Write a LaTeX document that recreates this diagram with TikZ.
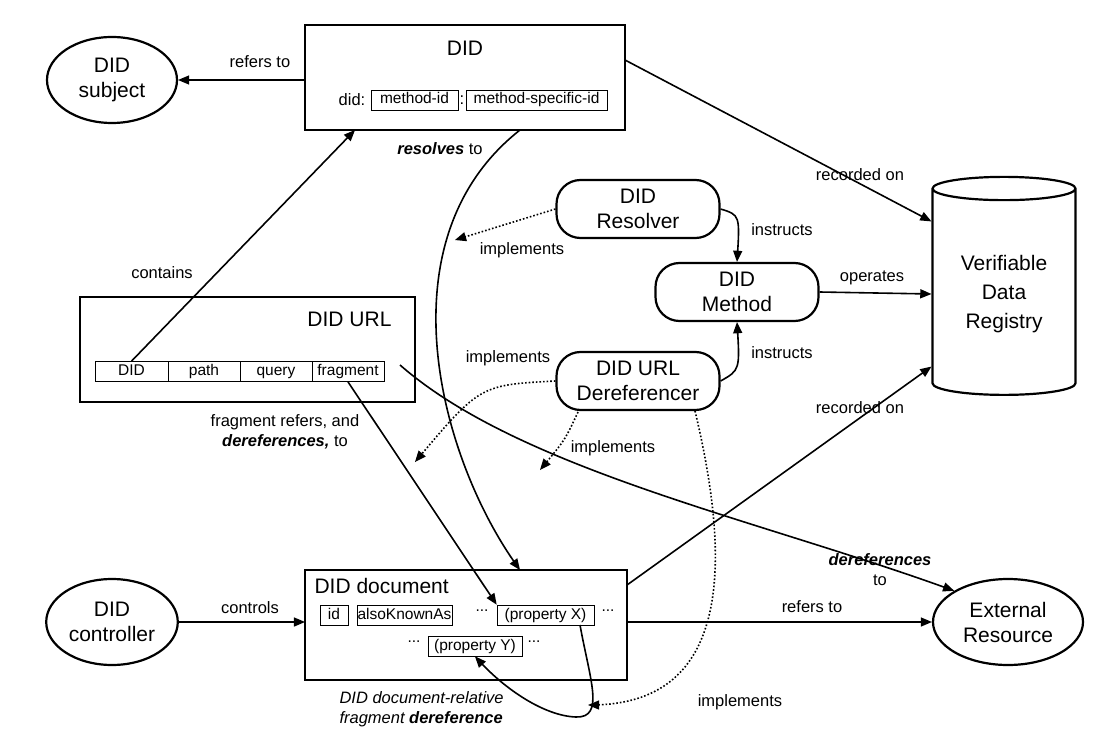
\documentclass[tikz,border=0pt]{standalone}
\usepackage{fontspec}
\setmainfont{Liberation Sans}
\usetikzlibrary{arrows,shapes.geometric,positioning}

\newcommand{\bigtxt}{\fontsize{21}{25}\selectfont}
\newcommand{\lbltxt}{\fontsize{16.5}{20}\selectfont}
\newcommand{\celltxt}{\fontsize{15.5}{17}\selectfont}

\begin{document}
\begin{tikzpicture}[x=1pt,y=-1pt,>=triangle 45,
  ent/.style={ellipse,draw,line width=2.2pt,align=center,font=\bigtxt},
  frame/.style={draw,line width=2.2pt},
  soft/.style={draw,line width=2.2pt,rounded corners=24pt,align=center,font=\bigtxt,minimum width=163pt,minimum height=58pt},
  cell/.style={draw,line width=0.7pt,inner sep=0pt,minimum height=20pt,text height=11pt,text depth=3pt,font=\celltxt},
  lbl/.style={font=\lbltxt,align=center},
  link/.style={->,line width=1.6pt},
  impl/.style={->,line width=1.6pt,dotted}]
\useasboundingbox (0,0) rectangle (1105,743);
%%%ENTITIES
\node[ent,minimum width=130pt,minimum height=86pt] (subject) at (112,80) {DID\\subject};
\node[ent,minimum width=130pt,minimum height=86pt] (controller) at (112,622) {DID\\controller};
\node[ent,minimum width=150pt,minimum height=86pt] (external) at (1008,622) {External\\Resource};
\node[cylinder,draw,line width=2.2pt,shape border rotate=90,aspect=0.25,minimum width=143pt,minimum height=218pt,align=center,font=\fontsize{21}{29}\selectfont] (vdr) at (1004,294) {Verifiable\\Data\\Registry};
%%%DID
\draw[frame] (305,25) rectangle (625,130);
\coordinate (didL) at (305,80);
\coordinate (didR) at (625,60);
\coordinate (didB) at (520,130);
\coordinate (didB2) at (355,130);
\node[font=\bigtxt] at (465,48) {DID};
\node[font=\lbltxt] at (352,100) {did:};
\node[cell,minimum width=87pt] (mid) at (414.5,100) {method-id};
\node[font=\lbltxt] at (462,100) {:};
\node[cell,minimum width=141pt] (msid) at (536.5,100) {method-specific-id};
%%%DID URL
\draw[frame] (80,297) rectangle (415,402);
\node[font=\bigtxt,anchor=east] at (395,319) {DID URL};
\node[cell,minimum width=73pt] (udid) at (131.5,371.5) {DID};
\node[cell,minimum width=72pt] (upath) at (204,371.5) {path};
\node[cell,minimum width=72pt] (uquery) at (276,371.5) {query};
\node[cell,minimum width=72pt] (ufrag) at (348,371.5) {fragment};
\coordinate (urlR) at (400,365);
%%%DID DOCUMENT
\draw[frame] (305,570) rectangle (627,680);
\coordinate (docT) at (520,570);
\coordinate (docL) at (305,622);
\coordinate (docR) at (627,622);
\coordinate (docTR) at (627,585);
\node[font=\bigtxt,anchor=west] at (311,586) {DID document};
\node[cell,minimum width=28pt] (pid) at (334,615) {id};
\node[cell,minimum width=95pt] (aka) at (404.5,615) {alsoKnownAs};
\node[font=\celltxt] at (482,611) {...};
\node[cell,minimum width=97pt] (propx) at (545.5,615) {(property X)};
\node[font=\celltxt] at (608,611) {...};
\node[font=\celltxt] at (414,642) {...};
\node[cell,minimum width=94pt] (propy) at (475,646) {(property Y)};
\node[font=\celltxt] at (534,642) {...};
%%%SOFTWARE
\node[soft] (resolver) at (638,209) {DID\\Resolver};
\node[soft] (method) at (737,292) {DID\\Method};
\node[soft] (deref) at (638,381) {DID URL\\Dereferencer};
\coordinate (loopB) at (576,717);
%%%RELATIONS
\draw[link] (didL) -- (subject.east);
\node[lbl] at (260,62) {refers to};
\draw[link] (didR) -- (vdr.north west);
\node[lbl] at (860,175) {recorded on};
\draw[link] (udid.north) -- (didB2);
\node[lbl] at (162,273) {contains};
\draw[link] (didB) .. controls (380,240) and (440,460) .. (docT);
\node[lbl] at (440,149) {\textbf{\textit{resolves}} to};
\draw[link] (resolver.east) .. controls (740,215) .. (method.north);
\node[lbl] at (782,230) {instructs};
\draw[link] (deref.east) .. controls (740,370) .. (method.south);
\node[lbl] at (782,353) {instructs};
\draw[link] (method.east) -- (vdr.west);
\node[lbl] at (872,278) {operates};
\draw[impl] (resolver.west) -- (455,240);
\node[lbl] at (522,250) {implements};
\draw[impl] (deref.west) .. controls (480,385) .. (415,462);
\node[lbl] at (508,358) {implements};
\draw[impl] (578,412) .. controls (565,440) .. (540,470);
\node[lbl] at (613,448) {implements};
\draw[impl] (695,411) .. controls (745,620) and (700,705) .. (588,705);
\node[lbl] at (740,702) {implements};
\draw[link] (ufrag.south) -- (propx.north west);
\node[lbl] at (285,432) {fragment refers, and\\\textbf{\textit{dereferences,}} to};
\draw[link] (urlR) .. controls (520,470) and (760,520) .. (external.north west);
\node[lbl] at (880,570) {\textbf{\textit{dereferences}}\\to};
\draw[link] (docTR) -- (vdr.south west);
\node[lbl] at (860,408) {recorded on};
\draw[link] (docR) -- (external.west);
\node[lbl] at (812,607) {refers to};
\draw[link] (controller.east) -- (docL);
\node[lbl] at (250,608) {controls};
\draw[link] (580,625) .. controls (590,680) and (605,718) .. (loopB) .. controls (545,716) and (505,690) .. (propy.south);
\node[lbl,font=\lbltxt\itshape,align=left,anchor=north west] at (336,688) {DID document-relative\\fragment \textbf{dereference}};
\end{tikzpicture}
\end{document}
